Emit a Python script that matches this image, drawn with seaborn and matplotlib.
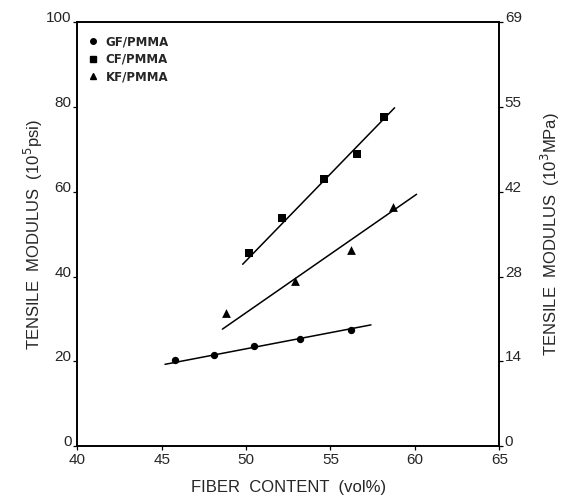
import matplotlib
matplotlib.use("Agg")
import matplotlib.pyplot as plt
import seaborn as sns
import pandas as pd
from matplotlib.lines import Line2D

# ---- data ----
gf_x = [45.8, 48.1, 50.5, 53.2, 56.2]
gf_y = [20.4, 21.6, 23.6, 25.2, 27.5]
cf_x = [50.2, 52.1, 54.6, 56.6, 58.2]
cf_y = [45.6, 53.7, 62.9, 69.0, 77.7]
kf_x = [48.8, 52.9, 56.2, 58.7]
kf_y = [31.5, 39.0, 46.2, 56.3]

gf_fit_x = [45.2, 57.4]
gf_fit_y = [19.3, 28.6]
cf_fit_x = [49.8, 58.8]
cf_fit_y = [42.9, 79.8]
kf_fit_x = [48.6, 60.1]
kf_fit_y = [27.6, 59.4]

series_names = ["GF/PMMA", "CF/PMMA", "KF/PMMA"]
x_ticks = [40, 45, 50, 55, 60, 65]
y_ticks = [0, 20, 40, 60, 80, 100]
right_tick_labels = ["0", "14", "28", "42", "55", "69"]

sns.set_theme(style="ticks")
plt.rcParams["font.family"] = ["Liberation Sans", "DejaVu Sans"]

fig = plt.figure(figsize=(5.68, 5.03), dpi=100)
ax = fig.add_axes([0.136, 0.113, 0.743, 0.843])

pts = pd.concat([
    pd.DataFrame({"x": gf_x, "y": gf_y, "s": series_names[0]}),
    pd.DataFrame({"x": cf_x, "y": cf_y, "s": series_names[1]}),
    pd.DataFrame({"x": kf_x, "y": kf_y, "s": series_names[2]}),
])
fits = pd.concat([
    pd.DataFrame({"x": gf_fit_x, "y": gf_fit_y, "s": series_names[0]}),
    pd.DataFrame({"x": cf_fit_x, "y": cf_fit_y, "s": series_names[1]}),
    pd.DataFrame({"x": kf_fit_x, "y": kf_fit_y, "s": series_names[2]}),
])

for name in series_names:
    sns.lineplot(data=fits[fits.s == name], x="x", y="y", color="black",
                 linewidth=1.1, ax=ax, legend=False)

markers = {"GF/PMMA": "o", "CF/PMMA": "s", "KF/PMMA": "^"}
sizes = {"GF/PMMA": 28, "CF/PMMA": 32, "KF/PMMA": 40}
for name in series_names:
    sns.scatterplot(data=pts[pts.s == name], x="x", y="y", color="black",
                    marker=markers[name], s=sizes[name], edgecolor="black",
                    linewidth=0, ax=ax, legend=False)

ax.set_xlim(40, 65)
ax.set_ylim(0, 100)
ax.set_xticks(x_ticks)
ax.set_yticks(y_ticks)
ax.tick_params(axis="x", direction="out", length=3, width=0.9,
               labelsize=11, pad=2, color="black")
ax.tick_params(axis="y", direction="out", length=3, width=0.9,
               labelsize=11, pad=1, color="black")
for lab in ax.get_yticklabels():
    lab.set_va("baseline")
for sp in ax.spines.values():
    sp.set_linewidth(1.2)
    sp.set_color("black")

ax.set_xlabel("FIBER  CONTENT  (vol%)", fontsize=12, labelpad=9)
ax.set_ylabel("TENSILE  MODULUS  (10$^5$psi)", fontsize=12, labelpad=1)

ax2 = ax.twinx()
ax2.set_ylim(0, 100)
ax2.set_yticks(y_ticks)
ax2.set_yticklabels(right_tick_labels)
ax2.tick_params(axis="y", direction="out", length=3, width=0.9,
                labelsize=11, pad=1, color="black")
for lab in ax2.get_yticklabels():
    lab.set_va("baseline")
ax2.set_ylabel("TENSILE  MODULUS  (10$^3$MPa)", fontsize=12, labelpad=12,
               rotation=90)
for sp in ax2.spines.values():
    sp.set_linewidth(1.2)
    sp.set_color("black")

handles = [
    Line2D([], [], color="black", marker="o", linestyle="none", markersize=4),
    Line2D([], [], color="black", marker="s", linestyle="none", markersize=4.3),
    Line2D([], [], color="black", marker="^", linestyle="none", markersize=5),
]
leg = ax.legend(handles, series_names, loc="upper left",
                bbox_to_anchor=(0.02, 0.975), frameon=False,
                prop={"size": 8.5, "weight": "bold", "family": "DejaVu Sans"},
                handlelength=0.8, handletextpad=0.7, labelspacing=0.4,
                borderaxespad=0.0, borderpad=0.2)

fig.savefig("out.png", dpi=100)
